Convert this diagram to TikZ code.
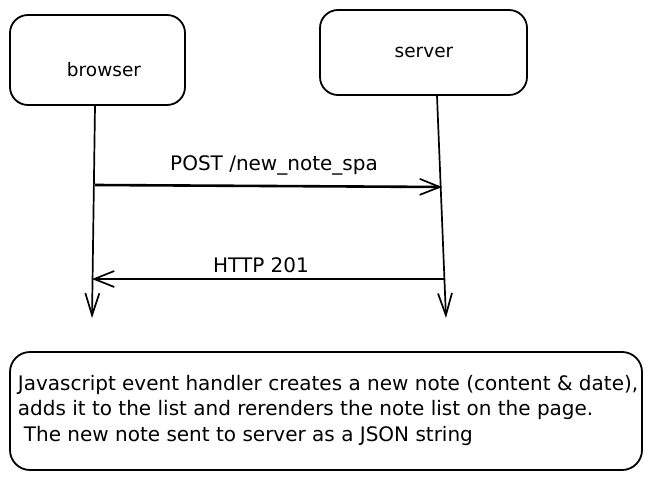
\documentclass[tikz,border=0pt]{standalone}
\usepackage{fontspec}
\setmainfont{DejaVu Sans}
\usetikzlibrary{arrows.meta}
\begin{document}
\begin{tikzpicture}[x=1pt,y=-1pt,line width=1.7pt,
  box/.style={draw, rounded corners=18pt, line width=1.8pt, inner sep=0pt},
  lbl/.style={font=\fontsize{18.5}{22}\selectfont, inner sep=0pt},
  msglbl/.style={font=\fontsize{20}{24}\selectfont, inner sep=0pt},
  msg/.style={-{Straight Barb[length=20pt,width=16pt,line width=1.7pt]}},
  life/.style={line width=1.7pt,-{Straight Barb[length=22pt,width=14pt,line width=1.7pt]}}]
\useasboundingbox (0,0) rectangle (652,481);
\node[box, minimum width=175pt, minimum height=90pt] (browser) at (97.5,60) {};
\node[lbl] (browsertext) at (104,70) {browser};
\node[box, minimum width=207pt, minimum height=85pt] (server) at (423.5,52.5) {};
\node[lbl] (servertext) at (424,52) {server};
\coordinate (bend) at (92,318);
\coordinate (send) at (446,318);
\draw[life] (browser.south -| 95,0) -- (bend);
\draw[life] (server.south -| 437,0) -- (send);
\coordinate (p1) at (95,185);
\coordinate (p2) at (442,187);
\draw[msg, line width=2.6pt] (p1) -- (p2);
\node[msglbl] (postlbl) at (274,165) {POST /new\_note\_spa};
\coordinate (h1) at (444,279);
\coordinate (h2) at (92,279);
\draw[msg] (h1) -- (h2);
\node[msglbl] (httplbl) at (261,265) {HTTP 201};
\node[box, rounded corners=20pt, minimum width=632pt, minimum height=118pt] (note) at (326,411) {};
\node[anchor=west, align=left, inner sep=0pt, font=\fontsize{20}{25.5}\selectfont] (notetext) at (17,410)
 {Javascript event handler creates a new note (content \& date),\\
  adds it to the list and rerenders the note list on the page.\\
  \hspace{6pt}The new note sent to server as a JSON string};
\end{tikzpicture}
\end{document}
